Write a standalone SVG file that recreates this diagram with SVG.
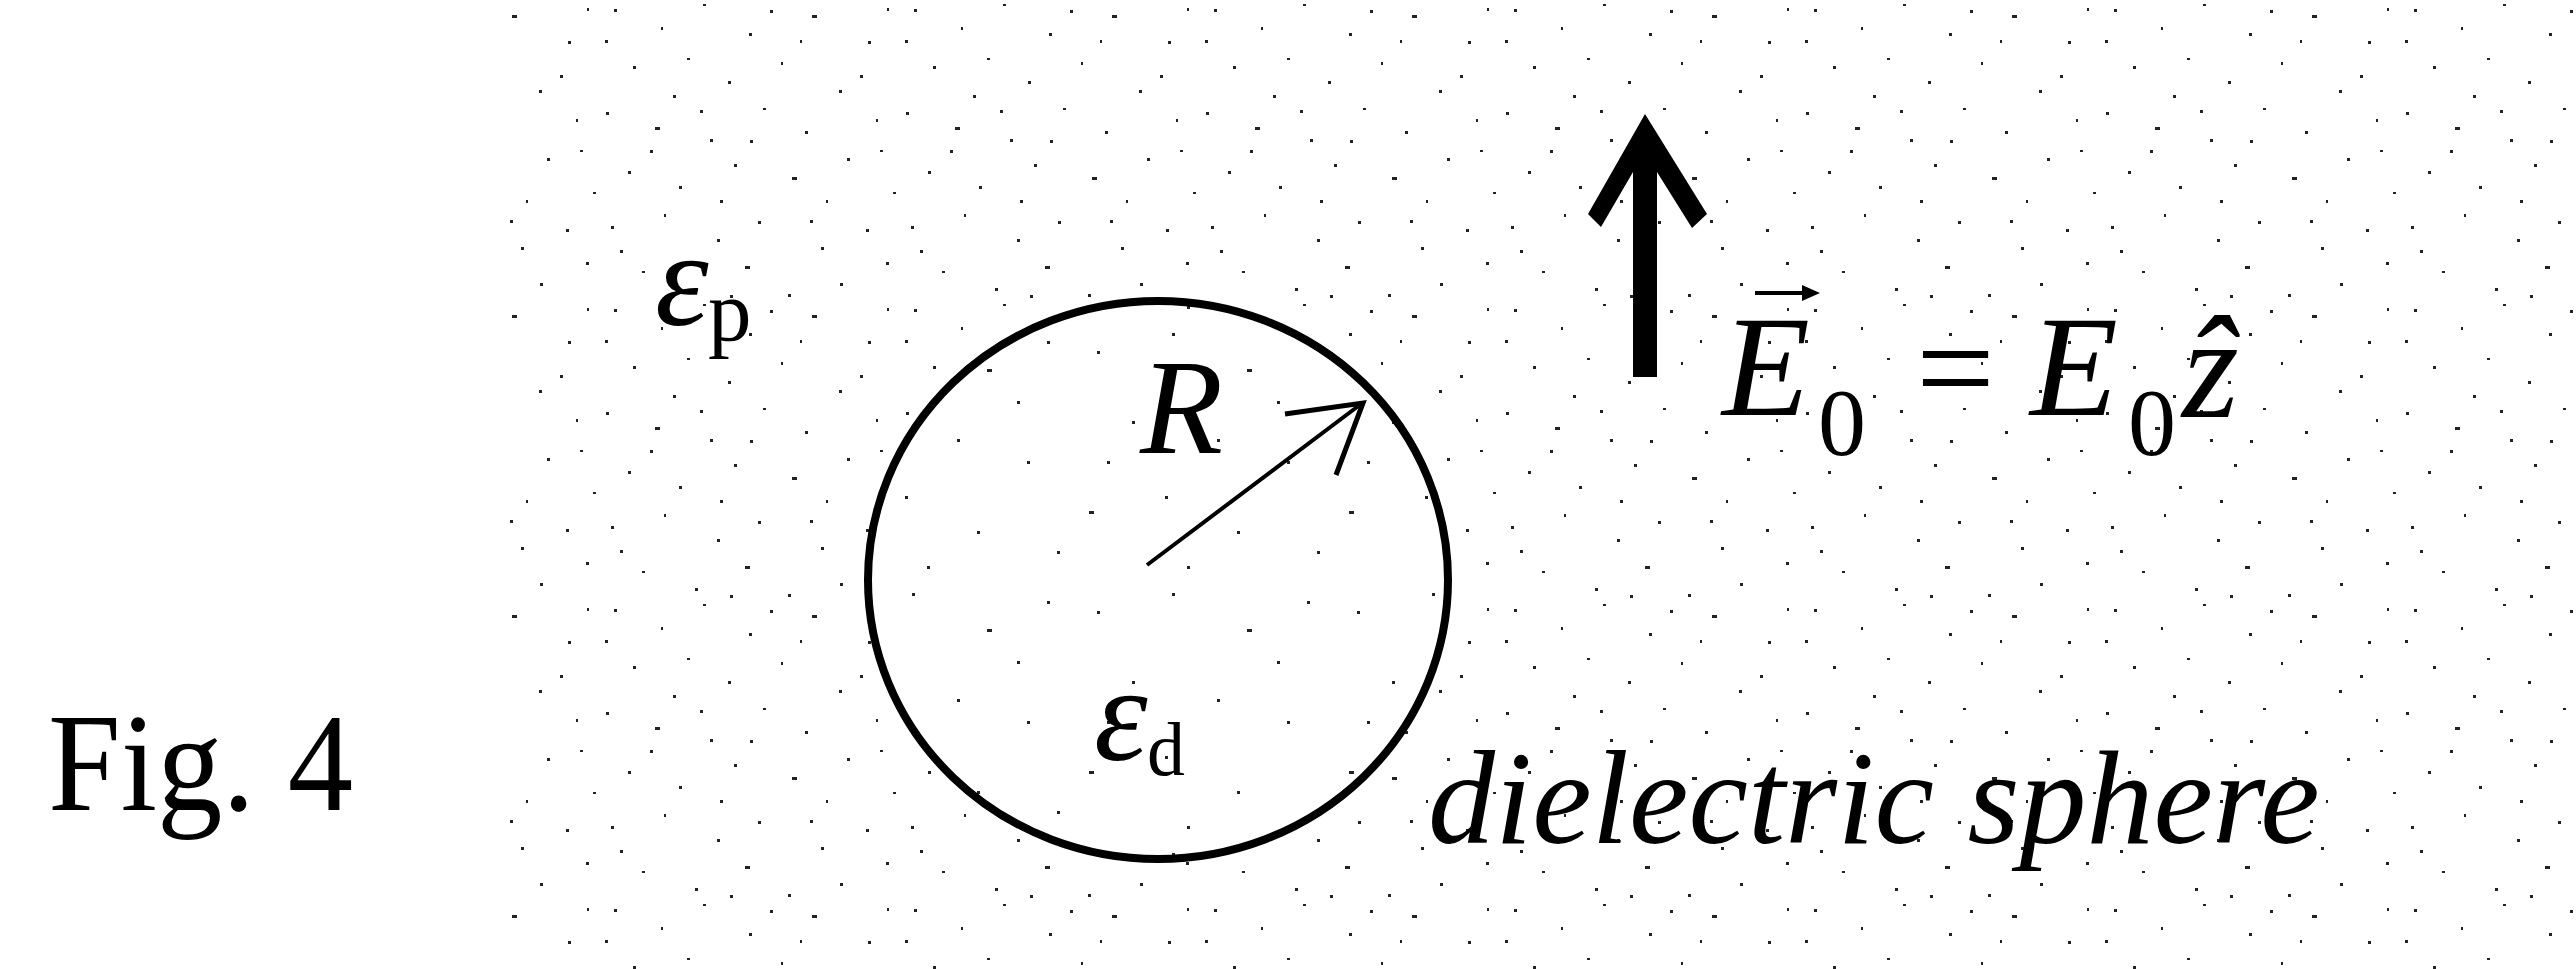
<svg xmlns="http://www.w3.org/2000/svg" width="2576" height="969" viewBox="0 0 2576 969">
<style>
.serif{font-family:"Liberation Serif","Times New Roman",serif;fill:#000}
.it{font-style:italic}
.ln{stroke:#000;fill:none}
</style>
<defs>
<pattern id="stip" x="0" y="0" width="300" height="300" patternUnits="userSpaceOnUse">
<g fill="#222">
<rect x="14" y="9" width="3" height="3"/><rect x="61" y="27" width="2" height="3"/><rect x="103" y="4" width="3" height="2"/>
<rect x="149" y="33" width="3" height="3"/><rect x="212" y="15" width="5" height="3"/><rect x="268" y="41" width="3" height="3"/>
<rect x="287" y="8" width="2" height="3"/><rect x="33" y="66" width="3" height="3"/><rect x="87" y="58" width="3" height="2"/>
<rect x="128" y="81" width="3" height="3"/><rect x="181" y="62" width="2" height="3"/><rect x="239" y="90" width="3" height="3"/>
<rect x="6" y="112" width="3" height="3"/><rect x="55" y="127" width="5" height="3"/><rect x="110" y="139" width="3" height="3"/>
<rect x="163" y="108" width="3" height="2"/><rect x="205" y="131" width="3" height="3"/><rect x="276" y="119" width="2" height="3"/>
<rect x="28" y="171" width="3" height="3"/><rect x="79" y="186" width="3" height="3"/><rect x="134" y="164" width="3" height="3"/>
<rect x="192" y="177" width="5" height="3"/><rect x="247" y="158" width="3" height="3"/><rect x="293" y="192" width="3" height="2"/>
<rect x="11" y="226" width="3" height="3"/><rect x="64" y="214" width="2" height="3"/><rect x="117" y="239" width="3" height="3"/>
<rect x="158" y="221" width="3" height="3"/><rect x="221" y="247" width="3" height="3"/><rect x="266" y="229" width="3" height="3"/>
<rect x="42" y="271" width="3" height="2"/><rect x="95" y="288" width="3" height="3"/><rect x="145" y="266" width="5" height="3"/>
<rect x="188" y="294" width="3" height="3"/><rect x="240" y="283" width="3" height="3"/><rect x="286" y="262" width="3" height="3"/>
<rect x="73" y="95" width="3" height="3"/><rect x="226" y="200" width="2" height="3"/><rect x="120" y="200" width="3" height="3"/>
<rect x="170" y="10" width="3" height="3"/><rect x="5" y="40" width="3" height="3"/><rect x="260" y="75" width="3" height="3"/>
<rect x="100" y="110" width="3" height="3"/><rect x="200" y="40" width="2" height="3"/><rect x="150" y="140" width="3" height="3"/>
<rect x="50" y="150" width="3" height="3"/><rect x="280" y="150" width="3" height="2"/><rect x="20" y="250" width="3" height="3"/>
<rect x="130" y="295" width="3" height="3"/><rect x="210" y="220" width="3" height="3"/>
</g>
</pattern>
<pattern id="stip2" x="37" y="61" width="260" height="260" patternUnits="userSpaceOnUse">
<g fill="#222">
<rect x="20" y="30" width="3" height="3"/><rect x="95" y="12" width="3" height="3"/><rect x="170" y="48" width="5" height="3"/>
<rect x="230" y="20" width="3" height="3"/><rect x="55" y="100" width="3" height="3"/><rect x="140" y="118" width="3" height="3"/>
<rect x="210" y="140" width="3" height="3"/><rect x="12" y="190" width="5" height="3"/><rect x="88" y="175" width="3" height="3"/>
<rect x="160" y="210" width="3" height="3"/><rect x="240" y="230" width="3" height="3"/><rect x="110" y="245" width="3" height="3"/>
<rect x="200" y="80" width="3" height="3"/><rect x="30" y="140" width="3" height="3"/>
</g>
</pattern>
</defs>
<rect width="2576" height="969" fill="#fff"/>
<g id="background">
<rect x="510" y="0" width="2066" height="969" fill="url(#stip)"/>
</g>
<g id="sphere">
<ellipse cx="1158" cy="580" rx="290" ry="279" fill="#fff"/>
<ellipse cx="1158" cy="580" rx="290" ry="279" fill="url(#stip2)"/>
<ellipse cx="1158" cy="580" rx="290" ry="279" class="ln" stroke-width="8"/>
</g>
<g id="connectors">
<g id="radius-arrow">
<line x1="1147" y1="565" x2="1361" y2="404" class="ln" stroke-width="4"/>
<polyline points="1285,414 1363,403 1336,475" class="ln" stroke-width="5" stroke-linejoin="miter"/>
</g>
<g id="field-arrow">
<polygon points="1645,114 1707,214 1692,228 1657,172 1657,377 1633,377 1633,172 1601,227 1588,214" fill="#000"/>
</g>
</g>
<g id="label-fig">
<text x="48" y="810" class="serif" font-size="139" textLength="305" lengthAdjust="spacingAndGlyphs">Fig. 4</text>
</g>
<g id="label-eps-p">
<text x="655" y="325" class="serif it" font-size="136">ε</text>
<text x="708" y="340" class="serif" font-size="87">p</text>
</g>
<g id="label-eps-d">
<text x="1094" y="760" class="serif it" font-size="136">ε</text>
<text x="1147" y="775" class="serif" font-size="76">d</text>
</g>
<g id="label-R">
<text x="1140" y="453" class="serif it" font-size="136">R</text>
</g>
<g id="label-field">
<line x1="1755" y1="293" x2="1806" y2="293" class="ln" stroke-width="4"/>
<polygon points="1820,293 1802,285 1802,301" fill="#000"/>
<text x="1722" y="415" class="serif it" font-size="144">E</text>
<text x="1818" y="455" class="serif" font-size="96">0</text>
<text x="1916" y="415" class="serif" font-size="140">=</text>
<text x="2030" y="415" class="serif it" font-size="144">E</text>
<text x="2128" y="455" class="serif" font-size="96">0</text>
<text x="2182" y="417" class="serif it" font-size="146">ẑ</text>
</g>
<g id="label-dielectric">
<text x="1428" y="843" class="serif it" font-size="134">dielectric sphere</text>
</g>
</svg>
